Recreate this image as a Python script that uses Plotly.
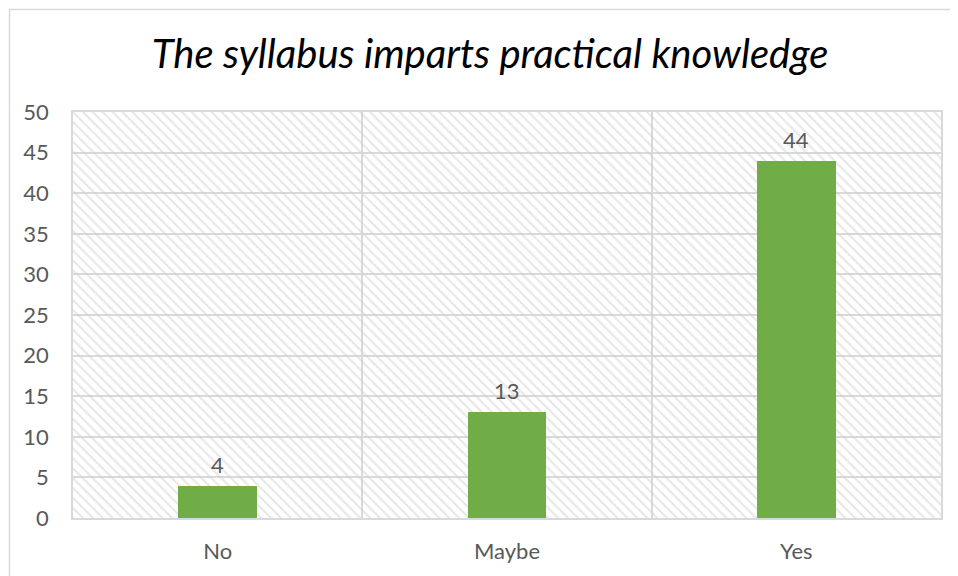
import plotly.graph_objects as go

categories = ["No", "Maybe", "Yes"]
counts = [4, 13, 44]
y_ticks = [0, 5, 10, 15, 20, 25, 30, 35, 40, 45, 50]
y_max = 50

grid_color = "#d9d9d9"
bar_color = "#70AD47"
text_gray = "#595959"

# page body has an 8px margin, so the figure is drawn at (8, 8)
W, H = 950, 568
L, R, T, B = 65, 17, 104, 56
plot_w = W - L - R
plot_h = H - T - B

fig = go.Figure()

# hatched plot background, one full-width bar per category
fig.add_trace(go.Bar(
    x=categories, y=[y_max] * len(categories), width=1,
    marker=dict(color="rgba(0,0,0,0)", line=dict(width=0),
                pattern=dict(shape="\\", size=7, solidity=0.3,
                             fgcolor="#d0d0d0", bgcolor="rgba(0,0,0,0)",
                             fillmode="overlay")),
    hoverinfo="skip", showlegend=False,
))

fig.add_trace(go.Bar(
    x=categories, y=counts, width=0.273,
    marker=dict(color=bar_color, line=dict(width=0)),
    showlegend=False,
))

for c, v in zip(categories, counts):
    fig.add_annotation(x=c, y=v, text=str(v), showarrow=False,
                       yanchor="bottom", yshift=6,
                       font=dict(family="Lato", size=22, color=text_gray))

# outer chart border
fig.add_shape(type="rect", xref="paper", yref="paper",
              x0=(1.5 - L) / plot_w, x1=(W + 20 - L) / plot_w,
              y0=-(B + 40) / plot_h, y1=(plot_h + T - 1) / plot_h,
              line=dict(color="#d9d9d9", width=1.5), layer="below")

fig.update_layout(
    width=W, height=H,
    margin=dict(l=L, r=R, t=T, b=B),
    paper_bgcolor="white", plot_bgcolor="white",
    barmode="overlay", bargap=0,
    title=dict(text="<i>The syllabus imparts practical knowledge</i>",
               x=(490 - 8) / W, xref="container", xanchor="center",
               y=1 - (54 - 8) / H, yanchor="middle",
               font=dict(family="Lato", size=40, color="black")),
)

fig.update_xaxes(
    type="category", tickson="boundaries", showgrid=True,
    gridcolor=grid_color, gridwidth=1.5,
    showline=True, linecolor=grid_color, linewidth=1.5, mirror=True,
    ticks="", ticklabelstandoff=13,
    tickfont=dict(family="Lato", size=22, color=text_gray),
)
fig.update_yaxes(
    range=[0, y_max], tickvals=y_ticks, showgrid=True,
    gridcolor=grid_color, gridwidth=1.5,
    showline=True, linecolor=grid_color, linewidth=1.5, mirror=True,
    ticks="", ticklabelstandoff=18, zeroline=False,
    tickfont=dict(family="Lato", size=22, color=text_gray),
)

fig.write_html("out.html")
